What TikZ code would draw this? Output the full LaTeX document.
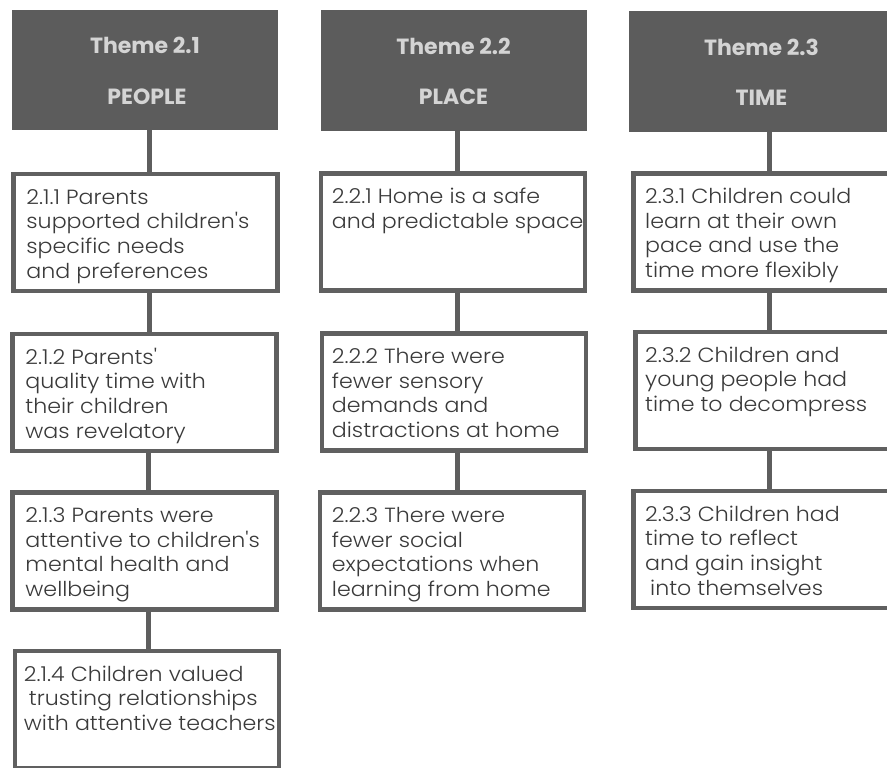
\documentclass[tikz,border=0pt]{standalone}
\usepackage{fontspec}
\newfontfamily\bodyfont{Poppins Light}[FakeStretch=1.08]
\newfontfamily\headfont{Poppins Bold}
\definecolor{hdr}{HTML}{5C5C5C}
\definecolor{htxt}{HTML}{D4D4D4}
\definecolor{bord}{HTML}{606060}
\definecolor{conncol}{HTML}{5E5E5E}
\definecolor{tcol}{HTML}{3A3A3A}
\newcommand\tline[1]{\hbox{#1}}
\newcommand\tlines[1]{\vtop{\baselineskip=24.6pt\lineskiplimit=-20pt #1}}
\begin{document}
\begin{tikzpicture}[x=1pt,y=-1pt,
  head/.style={fill=hdr, draw=none, minimum width=266pt, minimum height=120pt, inner sep=0pt, outer sep=0pt},
  tbox/.style={draw=bord, line width=4.5pt, fill=white, minimum width=264pt, minimum height=117pt, inner sep=0pt},
  htext/.style={text=htxt, font=\headfont\fontsize{22}{22}\selectfont, inner sep=0pt, anchor=base},
  txt/.style={text=tcol, font=\bodyfont\fontsize{20.5}{24.6}\selectfont, inner sep=0pt, anchor=base west},
  conn/.style={draw=conncol, line width=5pt}]
\clip (0,0) rectangle (887,768);
\fill[white] (0,0) rectangle (887,768);

% connector x positions
\coordinate (c1a) at (149,0);
\coordinate (c1b) at (148.5,0);
\coordinate (c2) at (457,0);
\coordinate (c3) at (769.5,0);

% headers
\node[head] (h21) at (145,70) {};
\node[head, minimum height=121pt] (h22) at (453.5,70.5) {};
\node[head, minimum height=121pt] (h23) at (761.5,71.5) {};
\node[htext] (h21a) at ([yshift=16pt]h21.center) {Theme 2.1};
\node[htext] (h21b) at ([yshift=-34pt,xshift=2pt]h21.center) {PEOPLE};
\node[htext] (h22a) at ([yshift=16pt]h22.center) {Theme 2.2};
\node[htext] (h22b) at ([yshift=-34pt]h22.center) {PLACE};
\node[htext] (h23a) at ([yshift=16pt]h23.center) {Theme 2.3};
\node[htext] (h23b) at ([yshift=-34pt]h23.center) {TIME};

% boxes
\node[tbox] (b211) at (145.5,232.5) {};
\node[tbox] (b212) at (144.5,392.5) {};
\node[tbox] (b213) at (144.5,551) {};
\node[tbox] (b214) at (147,709.5) {};
\node[tbox] (b221) at (453,232) {};
\node[tbox] (b222) at (454,392) {};
\node[tbox] (b223) at (452,551) {};
\node[tbox] (b231) at (765.25,232) {};
\node[tbox] (b232) at (767.25,390.5) {};
\node[tbox] (b233) at (765.25,549.5) {};

% connectors
\draw[conn] (h21.south -| c1a) -- (b211.north -| c1a);
\draw[conn] (b211.south -| c1a) -- (b212.north -| c1a);
\draw[conn] (b212.south -| c1b) -- (b213.north -| c1b);
\draw[conn] (b213.south -| c1b) -- (b214.north -| c1b);
\draw[conn] (h22.south -| c2) -- (b221.north -| c2);
\draw[conn] (b221.south -| c2) -- (b222.north -| c2);
\draw[conn] (b222.south -| c2) -- (b223.north -| c2);
\draw[conn] (h23.south -| c3) -- (b231.north -| c3);
\draw[conn] (b231.south -| c3) -- (b232.north -| c3);
\draw[conn] (b232.south -| c3) -- (b233.north -| c3);

% texts
\node[txt] (t211) at ([xshift=15pt,yshift=-32.5pt]b211.north west) {\tlines{\tline{2.1.1 Parents}\tline{supported children's}\tline{specific needs}\tline{and preferences}}};
\node[txt] (t212) at ([xshift=15pt,yshift=-32.5pt]b212.north west) {\tlines{\tline{2.1.2 Parents'}\tline{quality time with}\tline{their children}\tline{was revelatory}}};
\node[txt] (t213) at ([xshift=15pt,yshift=-32.5pt]b213.north west) {\tlines{\tline{2.1.3 Parents were}\tline{attentive to children's}\tline{mental health and}\tline{wellbeing}}};
\node[txt] (t214) at ([xshift=11pt,yshift=-32.5pt]b214.north west) {\tlines{\tline{2.1.4 Children valued}\tline{\hspace{5pt}trusting relationships}\tline{with attentive teachers}}};
\node[txt] (t221) at ([xshift=13pt,yshift=-32.5pt]b221.north west) {\tlines{\tline{2.2.1 Home is a safe}\tline{and predictable space}}};
\node[txt] (t222) at ([xshift=12pt,yshift=-32.5pt]b222.north west) {\tlines{\tline{2.2.2 There were}\tline{fewer sensory}\tline{demands and}\tline{distractions at home}}};
\node[txt] (t223) at ([xshift=14pt,yshift=-32.5pt]b223.north west) {\tlines{\tline{2.2.3 There were}\tline{fewer social}\tline{expectations when}\tline{learning from home}}};
\node[txt] (t231) at ([xshift=14pt,yshift=-32.5pt]b231.north west) {\tlines{\tline{2.3.1 Children could}\tline{learn at their own}\tline{pace and use the}\tline{time more flexibly}}};
\node[txt] (t232) at ([xshift=12pt,yshift=-32.5pt]b232.north west) {\tlines{\tline{2.3.2 Children and}\tline{young people had}\tline{time to decompress}}};
\node[txt] (t233) at ([xshift=14pt,yshift=-32.5pt]b233.north west) {\tlines{\tline{2.3.3 Children had}\tline{time to reflect}\tline{and gain insight}\tline{\hspace{5pt}into themselves}}};
\end{tikzpicture}
\end{document}
